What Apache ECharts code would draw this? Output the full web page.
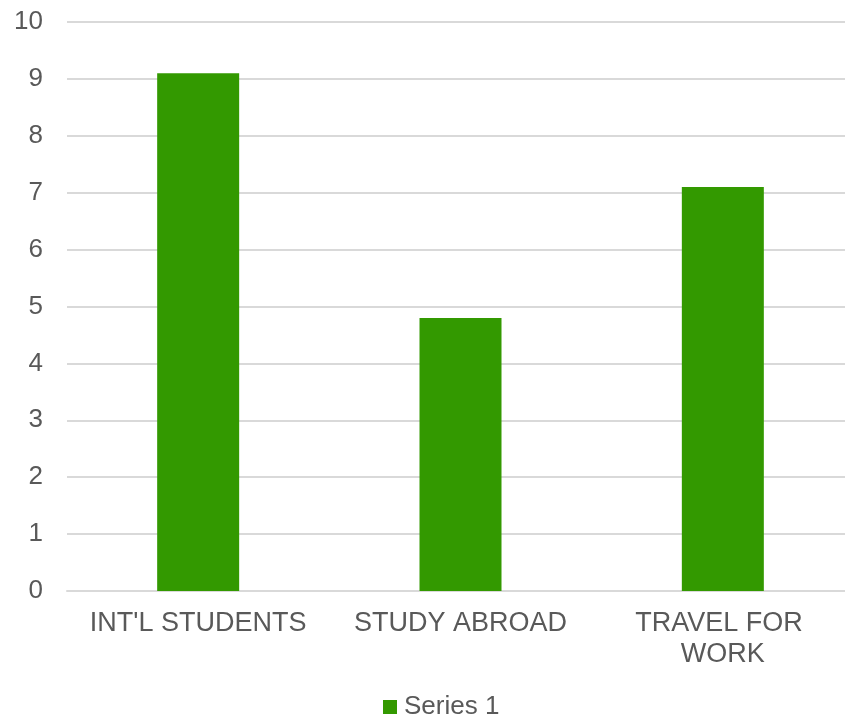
<!DOCTYPE html>
<html><head><meta charset="utf-8">
<script src="https://cdn.jsdelivr.net/npm/echarts@6/dist/echarts.min.js"></script>
<style>html,body{margin:0;padding:0;background:#fff}#c{width:845px;height:718px}</style>
</head><body><div id="c"></div>
<script>
const categories = ["INT'L STUDENTS", "STUDY ABROAD", "TRAVEL FOR WORK"];
const series1 = [9.1, 4.8, 7.1];
const seriesName = "Series 1";

const chart = echarts.init(document.getElementById('c'), null, {renderer: 'canvas'});
const font = '"Liberation Sans", Arial, sans-serif';
chart.setOption({
  animation: false,
  backgroundColor: '#fff',
  grid: {left: 67, right: -9, top: 22, bottom: 127, containLabel: false, outerBoundsMode: 'none'},
  legend: {
    bottom: -7, left: 378,
    itemWidth: 14, itemHeight: 14, itemGap: 8,
    icon: 'rect',
    textStyle: {fontFamily: font, fontSize: 26, color: '#595959', padding: [0, 0, 0, 2]},
    data: [seriesName]
  },
  xAxis: {
    type: 'category', data: categories,
    axisLine: {show: true, lineStyle: {color: '#d9d9d9', width: 2}},
    axisTick: {show: false},
    axisLabel: {fontFamily: font, fontSize: 27, color: '#595959', margin: 17, lineHeight: 31,
      width: 240, overflow: 'break', interval: 0}
  },
  yAxis: {
    type: 'value', min: 0, max: 10, interval: 1,
    axisLine: {show: false}, axisTick: {show: false},
    splitLine: {lineStyle: {color: '#d9d9d9', width: 2}},
    axisLabel: {fontFamily: font, fontSize: 26, color: '#595959', margin: 24}
  },
  series: [{
    name: seriesName, type: 'bar', data: series1,
    barWidth: 82,
    itemStyle: {color: '#339900'}
  }]
});
</script></body></html>
